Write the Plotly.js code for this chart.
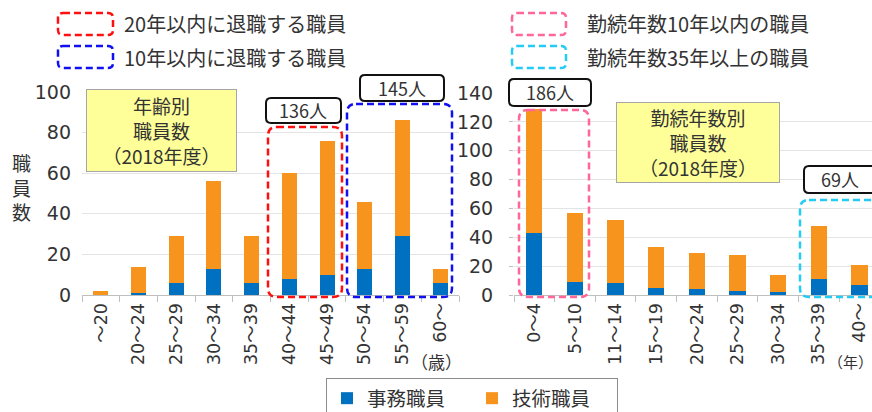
<!DOCTYPE html>
<html>
<head>
<meta charset="utf-8">
<script src="https://cdn.plot.ly/plotly-3.0.1.min.js"></script>
<style>html,body{margin:0;padding:0;background:#fff;}#chart{width:872px;height:412px;}</style>
</head>
<body>
<div id="chart"></div>
<script>
// ---- data ----
const ageCats = ['～20','20～24','25～29','30～34','35～39','40～44','45～49','50～54','55～59','60～'];
const ageOffice = [0,1,6,13,6,8,10,13,29,6];
const ageTech = [2,13,23,43,23,52,66,33,57,7];
const tenureCats = ['0～4','5～10','11～14','15～19','20～24','25～29','30～34','35～39','40～'];
const tenureOffice = [43,9,8,5,4,3,2,11,7];
const tenureTech = [86,48,44,28,25,25,12,37,14];
const seriesNames = ['事務職員','技術職員'];
const ageTicks = [0,20,40,60,80,100];
const tenureTicks = [0,20,40,60,80,100,120,140];

const W = 872, H = 412;
const BLUE = '#0070C0', ORANGE = '#F7941D';
const FONT = 'DejaVu Sans, Noto Sans CJK JP, sans-serif';
const JFONT = 'Noto Sans CJK JP, DejaVu Sans, sans-serif';

function px(x){return (x/W).toFixed(5);}
function py(y){return (1-y/H).toFixed(5);}
function rrect(x0,y0,x1,y1,r){
  const p=(x,y)=>px(x)+','+py(y);
  return 'M'+p(x0+r,y0)+' L'+p(x1-r,y0)+' Q'+p(x1,y0)+' '+p(x1,y0+r)+
    ' L'+p(x1,y1-r)+' Q'+p(x1,y1)+' '+p(x1-r,y1)+
    ' L'+p(x0+r,y1)+' Q'+p(x0,y1)+' '+p(x0,y1-r)+
    ' L'+p(x0,y0+r)+' Q'+p(x0,y0)+' '+p(x0+r,y0)+' Z';
}
function dashBox(x0,y0,x1,y1,r,color){
  return {type:'path',xref:'paper',yref:'paper',path:rrect(x0,y0,x1,y1,r),
    line:{color:color,width:2.5,dash:'7px,4px'},fillcolor:'rgba(0,0,0,0)'};
}
function labelBox(x0,y0,x1,y1){
  return {type:'path',xref:'paper',yref:'paper',path:rrect(x0,y0,x1,y1,5),
    line:{color:'#111',width:2},fillcolor:'#fff'};
}
function txt(x,y,text,size,anchor,extra){
  return Object.assign({xref:'paper',yref:'paper',x:x/W,y:1-y/H,text:text,showarrow:false,
    xanchor:anchor||'center',yanchor:'middle',font:{family:JFONT,size:size,color:'#333'}},extra||{});
}

const traces = [
  {type:'bar',name:seriesNames[0],x:ageCats,y:ageOffice,marker:{color:BLUE},xaxis:'x',yaxis:'y',legendgroup:'a'},
  {type:'bar',name:seriesNames[1],x:ageCats,y:ageTech,marker:{color:ORANGE},xaxis:'x',yaxis:'y',legendgroup:'b'},
  {type:'bar',name:seriesNames[0],x:tenureCats,y:tenureOffice,marker:{color:BLUE},xaxis:'x2',yaxis:'y2',legendgroup:'a',showlegend:false},
  {type:'bar',name:seriesNames[1],x:tenureCats,y:tenureTech,marker:{color:ORANGE},xaxis:'x2',yaxis:'y2',legendgroup:'b',showlegend:false}
];

const xCommon = {type:'category',showline:true,linecolor:'#bfbfbf',linewidth:1,ticks:'outside',tickson:'boundaries',
  ticklen:6,tickcolor:'#bfbfbf',tickangle:-90,showgrid:false,automargin:false,tickfont:{family:FONT,size:17.5,color:'#333'},fixedrange:true};
const yCommon = {showgrid:true,gridcolor:'#e4e4e4',gridwidth:1,zeroline:false,showline:false,automargin:false,
  tickfont:{family:FONT,size:19,color:'#333'},fixedrange:true};

const layout = {
  width:W,height:H,margin:{l:0,r:0,t:0,b:0,autoexpand:false},paper_bgcolor:'#fff',plot_bgcolor:'#fff',
  barmode:'stack',bargap:0.6,font:{family:FONT,color:'#333'},
  xaxis:Object.assign({},xCommon,{domain:[82/W,459/W],range:[-0.5,9.5],anchor:'y'}),
  yaxis:Object.assign({},yCommon,{domain:[1-295/H,1-92/H],range:[0,100],tickvals:ageTicks,ticks:'',ticklabelstandoff:10,anchor:'x'}),
  xaxis2:Object.assign({},xCommon,{domain:[514/W,1],range:[-0.5,8.31],anchor:'y2'}),
  yaxis2:Object.assign({},yCommon,{domain:[1-295/H,1-93/H],range:[0,140],tickvals:tenureTicks,ticks:'outside',ticklen:4,tickcolor:'#bfbfbf',ticklabelstandoff:12,anchor:'x2'}),
  legend:{orientation:'h',x:326/W,y:1-378/H,xanchor:'left',yanchor:'top',bordercolor:'#8c8c8c',borderwidth:1,
    font:{family:JFONT,size:19.5,color:'#333'},traceorder:'normal',entrywidth:100,bgcolor:'#fff'},
  shapes:[
    // top legends
    dashBox(58,13,113,35,5,'#FF1010'),
    dashBox(58,46,113,68,5,'#1010F0'),
    dashBox(512,13,566,35,5,'#FF6699'),
    dashBox(512,46,566,68,5,'#22CCF5'),
    // group boxes
    dashBox(268,127,342,297,9,'#FF1010'),
    dashBox(347,104,452,297,9,'#1010F0'),
    dashBox(519,110,589,297,9,'#FF6699'),
    dashBox(800,200,880,297,9,'#22CCF5'),
    // count labels
    labelBox(266,98,341,123),
    labelBox(360,75,444,101),
    labelBox(509,79,591,106),
    labelBox(804,166,880,193)
  ],
  annotations:[
    txt(122,24,'20年以内に退職する職員',20,'left'),
    txt(122,57,'10年以内に退職する職員',20,'left'),
    txt(585,24,'勤続年数10年以内の職員',20,'left'),
    txt(585,57,'勤続年数35年以上の職員',20,'left'),
    txt(161,130,'年齢別<br>職員数<br>（2018年度）',19,'center',{bgcolor:'#FFFF99',bordercolor:'#a6a6a6',borderwidth:1,width:145,height:77,borderpad:2}),
    txt(698,143,'勤続年数別<br>職員数<br>（2018年度）',19,'center',{bgcolor:'#FFFF99',bordercolor:'#a6a6a6',borderwidth:1,width:158,height:75,borderpad:2}),
    txt(303,110,'136人',18),
    txt(402,88,'145人',18),
    txt(550,92,'186人',18),
    txt(840,179,'69人',18),
    txt(21,187,'職<br>員<br>数',19),
    txt(436,361,'（歳）',17),
    txt(850,361,'（年）',15)
  ]
};

Plotly.newPlot('chart',traces,layout,{displayModeBar:false,staticPlot:true});
</script>
</body>
</html>
